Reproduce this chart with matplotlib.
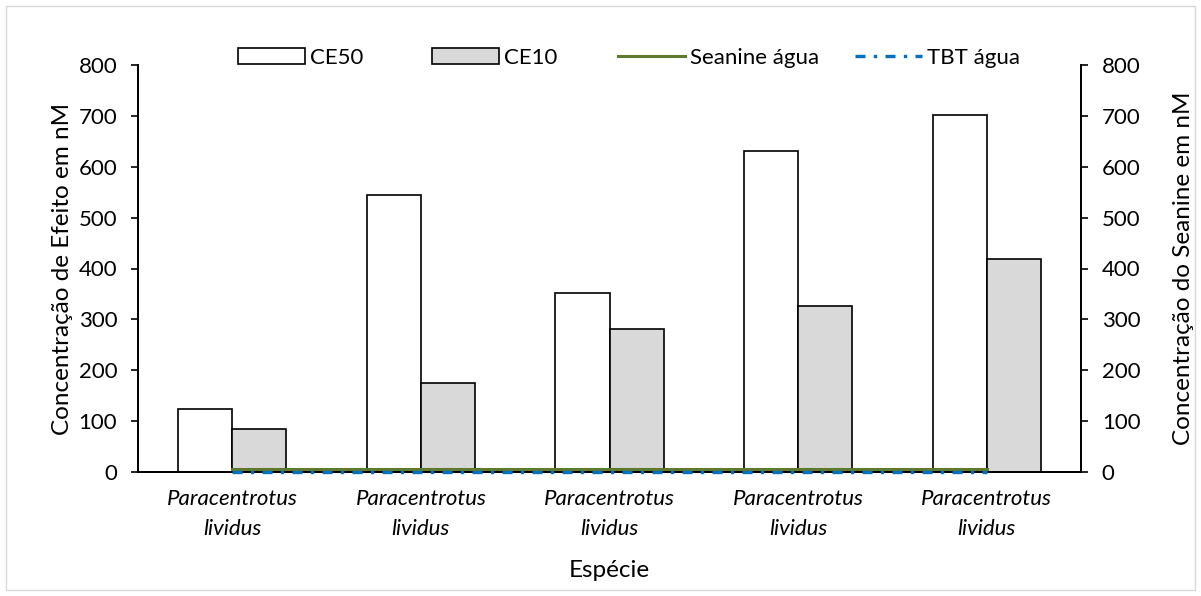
import matplotlib.pyplot as plt
import numpy as np

plt.rcParams['font.family'] = ['Lato', 'DejaVu Sans']

species = ['Paracentrotus\nlividus'] * 5
ce50 = [123, 545, 351, 630, 701]
ce10 = [85, 174, 281, 327, 419]
seanine_agua = [6, 6, 6, 6, 6]
tbt_agua = [0.5, 0.5, 0.5, 0.5, 0.5]
yticks = [0, 100, 200, 300, 400, 500, 600, 700, 800]

W, H = 1201, 596
fig = plt.figure(figsize=(W / 100, H / 100), dpi=100)
ax = fig.add_axes([138 / W, 1 - 472 / H, (1081 - 138) / W, (472 - 65) / H])
ax2 = ax.twinx()

x = np.arange(len(species))
w = 0.287
b1 = ax.bar(x - w / 2, ce50, w, color='white', edgecolor='black', linewidth=1.2, label='CE50')
b2 = ax.bar(x + w / 2, ce10, w, color='#d9d9d9', edgecolor='black', linewidth=1.2, label='CE10')
l1, = ax2.plot(x, seanine_agua, color='#5e7a2e', linewidth=2.2, label='Seanine água')
l2, = ax2.plot(x, tbt_agua, color='#0070c0', linewidth=2.4, linestyle=(0, (3, 2.5, 1, 2.5)),
               label='TBT água', zorder=5, clip_on=False)

for a in (ax, ax2):
    a.set_ylim(0, 800)
    a.set_yticks(yticks)
    a.tick_params(axis='y', labelsize=16, length=5, width=1.2, direction='out', pad=10)
    a.spines['top'].set_visible(False)
    for s in ('left', 'right', 'bottom'):
        a.spines[s].set_linewidth(1.3)
ax.set_xlim(-0.5, len(species) - 0.5)
ax.set_xticks(x)
ax.set_xticklabels(species, fontsize=16, style='italic', linespacing=1.65)
ax.tick_params(axis='x', length=0, pad=12)
ax.set_xlabel('Espécie', fontsize=17.5, labelpad=15)
ax.set_ylabel('Concentração de Efeito em nM', fontsize=17.5, labelpad=4)
ax2.set_ylabel('Concentração do Seanine em nM', fontsize=17.5, labelpad=23)

# legend entries placed one by one along the top, like the original
legend_x = [238, 432, 618, 855]
for h, lx in zip([b1, b2, l1, l2], legend_x):
    fig.legend(handles=[h], loc='center left', bbox_to_anchor=(lx / W, 1 - 58 / H),
               frameon=False, fontsize=16, handlelength=3.0, handleheight=0.75,
               handletextpad=0.25, borderpad=0, borderaxespad=0)

fig.patches.append(plt.Rectangle((6 / W, 6 / H), (W - 12) / W, (H - 12) / H,
                                 transform=fig.transFigure, fill=False,
                                 edgecolor='#d9d9d9', linewidth=1))

fig.savefig('out.png', dpi=100)
